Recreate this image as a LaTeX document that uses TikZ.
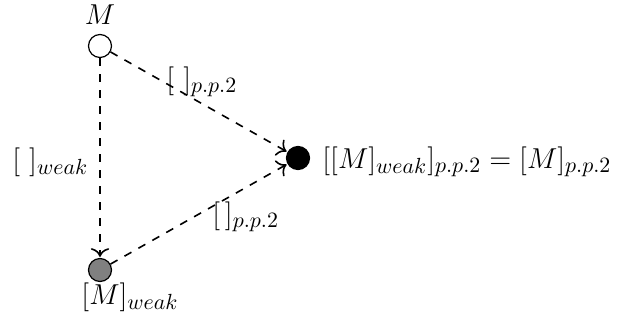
\documentclass[tikz,border=0pt]{standalone}
\usetikzlibrary{arrows.meta}
\begin{document}
\begin{tikzpicture}[x=0.5pt,y=-0.5pt,
  every node/.style={font=\fontsize{15}{18}\selectfont},
  dot/.style={circle,draw=black,line width=0.6pt,inner sep=0pt,minimum size=11.5pt},
  conn/.style={dash pattern=on 4pt off 4pt,line width=0.8pt,-{To[scale=1.3]},shorten >=0.5pt},
  lbl/.style={inner sep=0pt}]
\useasboundingbox (0,0) rectangle (619,332);
\node[dot,fill=white] (m) at (100,46) {};
\node[dot,fill=gray] (w) at (100,270) {};
\node[dot,fill=black] (p) at (298,158) {};
\draw[conn] (m) -- (p);
\draw[conn] (m) -- (w);
\draw[conn] (w) -- (p);
\node[lbl] (lm) at (100,15) {$M$};
\node[lbl] (lw) at (130,297) {$[M]_{weak}$};
\node[lbl,anchor=west] (lp) at (322,162) {$[[M]_{weak}]_{p.p.2}=[M]_{p.p.2}$};
\node[lbl,anchor=west] (l1) at (166,82) {$[\ ]_{p.p.2}$};
\node[lbl,anchor=west] (l2) at (12,162) {$[\ ]_{weak}$};
\node[lbl,anchor=west] (l3) at (212,217) {$[\,]_{p.p.2}$};
\end{tikzpicture}
\end{document}
